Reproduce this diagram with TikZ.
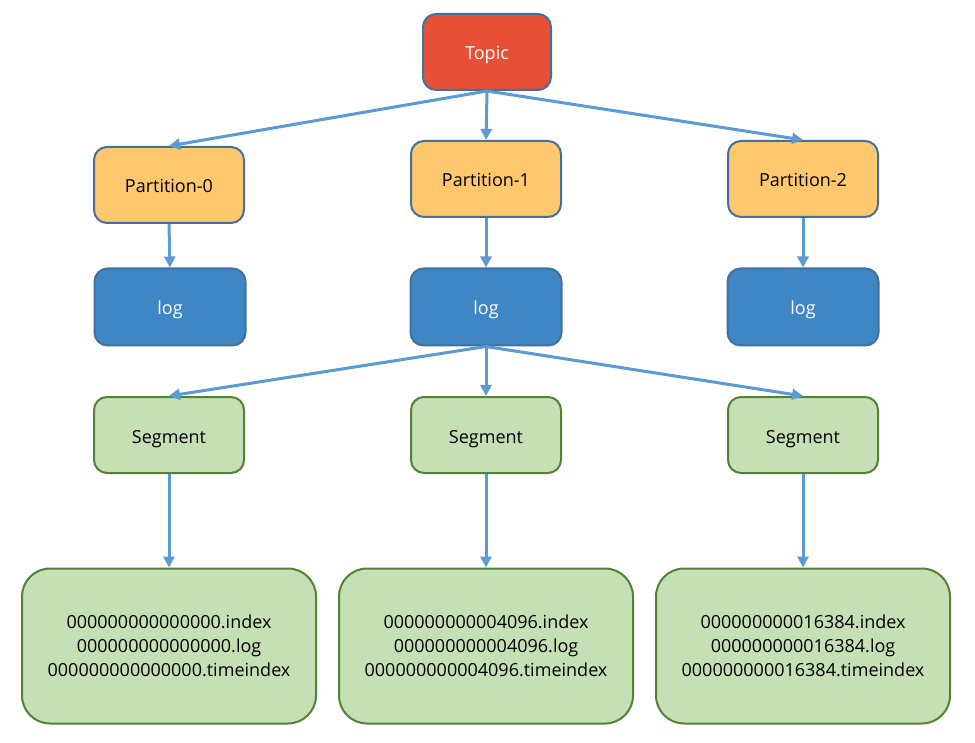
\documentclass[tikz,border=0pt]{standalone}
\usepackage{fontspec}
\setmainfont{Open Sans}
\usetikzlibrary{arrows.meta,shapes,positioning}
\usepackage{color}

\definecolor{topicred}{HTML}{E75037}
\definecolor{partorange}{HTML}{FFC86E}
\definecolor{logblue}{HTML}{3E86C4}
\definecolor{boxline}{HTML}{41719C}
\definecolor{seggreen}{HTML}{C5E0B4}
\definecolor{segline}{HTML}{548235}
\definecolor{arrowblue}{HTML}{5B9BD5}

\begin{document}
\begin{tikzpicture}[x=1pt,y=-1pt,>={Triangle[length=11pt,width=11pt]}]

	\tikzstyle{rect}=[
		rectangle,
		rounded corners=13pt,
		line width=2pt,
		minimum width=150pt,
		minimum height=76pt,
		inner sep=0pt,
		text height=16pt,
		text depth=0pt,
		font=\fontsize{18}{24}\selectfont
	]
	\tikzstyle{topic}=[rect, fill=topicred, draw=boxline, text=white, minimum width=128pt]
	\tikzstyle{part}=[rect, fill=partorange, draw=boxline]
	\tikzstyle{logf}=[rect, fill=logblue, draw=boxline, text=white, minimum width=151pt, minimum height=77pt]
	\tikzstyle{seg}=[rect, fill=seggreen, draw=segline]
	\tikzstyle{files}=[rect, fill=seggreen, draw=segline, rounded corners=28pt, minimum width=294pt, minimum height=155pt, align=center, text height=, text depth=-4pt]
	\tikzstyle{post}=[->, line width=3pt, draw=arrowblue, color=arrowblue]

	\useasboundingbox (0,0) rectangle (975,743);

	\node [topic] (T) at (487,52) {Topic};

	\node [part] (P0) at (169,185) {Partition-0};
	\node [part] (P1) at (486,179) {Partition-1};
	\node [part] (P2) at (803,179) {Partition-2};

	\node [logf] (L0) at (170,307) {log};
	\node [logf] (L1) at (486,307) {log};
	\node [logf] (L2) at (803,307) {log};

	\node [seg] (S0) at (169,435) {Segment};
	\node [seg] (S1) at (486,435) {Segment};
	\node [seg] (S2) at (803,435) {Segment};

	\node [files] (F0) at (169,646) {000000000000000.index\\000000000000000.log\\000000000000000.timeindex};
	\node [files] (F1) at (486,646) {000000000004096.index\\000000000004096.log\\000000000004096.timeindex};
	\node [files] (F2) at (803,646) {000000000016384.index\\000000000016384.log\\000000000016384.timeindex};

	\draw[post] (T.south)--(P0.north);
	\draw[post] (T.south)--(P1.north);
	\draw[post] (T.south)--(P2.north);

	\draw[post] (P0.south)--(L0.north);
	\draw[post] (P1.south)--(L1.north);
	\draw[post] (P2.south)--(L2.north);

	\draw[post] (L1.south)--(S0.north);
	\draw[post] (L1.south)--(S1.north);
	\draw[post] (L1.south)--(S2.north);

	\draw[post] (S0.south)--(F0.north);
	\draw[post] (S1.south)--(F1.north);
	\draw[post] (S2.south)--(F2.north);

\end{tikzpicture}
\end{document}
